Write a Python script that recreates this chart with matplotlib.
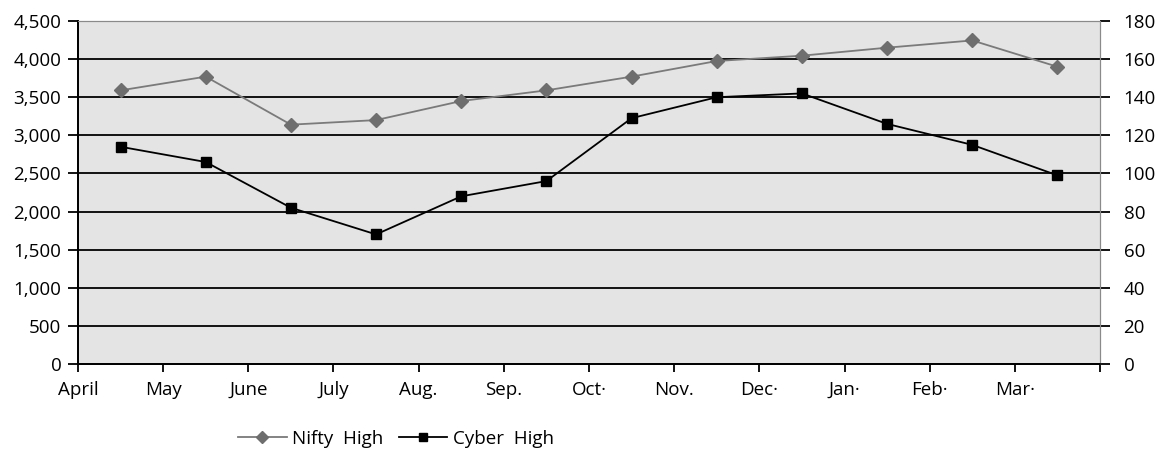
import matplotlib
matplotlib.use("Agg")
import matplotlib.pyplot as plt
import numpy as np

months = ["April", "May", "June", "July", "Aug.", "Sep.", "Oct·", "Nov.",
          "Dec·", "Jan·", "Feb·", "Mar·"]
nifty_high = [3590, 3770, 3140, 3200, 3450, 3590, 3770, 3975, 4045, 4150, 4245, 3900]
cyber_high = [114, 106, 82, 68, 88, 96, 129, 140, 142, 126, 115, 99]

plt.rcParams["font.family"] = ["Open Sans", "DejaVu Sans"]
plt.rcParams["font.size"] = 13.5

fig = plt.figure(figsize=(11.6, 4.49), dpi=100)
ax = fig.add_axes([78 / 1160, 1 - 364 / 449, (1100 - 78) / 1160, (364 - 21) / 449])
ax2 = ax.twinx()

ax.set_facecolor("#e3e4e3")
x = np.arange(len(months))

ax.set_xlim(-0.5, len(months) - 0.5)
ax.set_ylim(0, 4500)
ax2.set_ylim(0, 180)

# Horizontal grid lines at every 500 (left scale)
for v in range(500, 4500, 500):
    ax.axhline(v, color="black", lw=1.3, zorder=1)

l1, = ax2.plot(x, [v / 25 for v in nifty_high], color="#7a7a7a", lw=1.3,
               marker="D", markersize=7, markerfacecolor="#6e6e6e",
               markeredgecolor="#6e6e6e", zorder=3, label="Nifty  High")
l2, = ax2.plot(x, cyber_high, color="black", lw=1.3, marker="s", markersize=7,
               markerfacecolor="black", markeredgecolor="black", zorder=4,
               label="Cyber  High")

ax.set_yticks(np.arange(0, 4501, 500))
ax.set_yticklabels([f"{v:,}" for v in range(0, 4501, 500)])
ax2.set_yticks(np.arange(0, 181, 20))

ax.set_xticks(np.arange(-0.5, len(months) - 0.5, 1.0))
ax.set_xticklabels(months)
ax.set_xticks([len(months) - 0.5], minor=True)
ax.tick_params(axis="x", which="both", length=6, width=1.3, direction="out", pad=6)
ax.tick_params(axis="y", length=7, width=1.3, pad=5)
ax2.tick_params(axis="y", length=7, width=1.3, pad=10)

for a in (ax, ax2):
    a.spines["top"].set_color("#8a8a8a")
    a.spines["right"].set_color("#8a8a8a")
    a.spines["left"].set_color("black")
    a.spines["bottom"].set_color("black")
    a.spines["left"].set_linewidth(1.3)
    a.spines["bottom"].set_linewidth(1.3)

fig.legend(handles=[l1, l2], loc="center", bbox_to_anchor=(396 / 1160, 1 - 439 / 449),
           ncol=2, frameon=False, handlelength=2.6, handletextpad=0.3,
           columnspacing=0.8, fontsize=13.5, markerscale=0.85)

fig.savefig("out.png", dpi=100)
